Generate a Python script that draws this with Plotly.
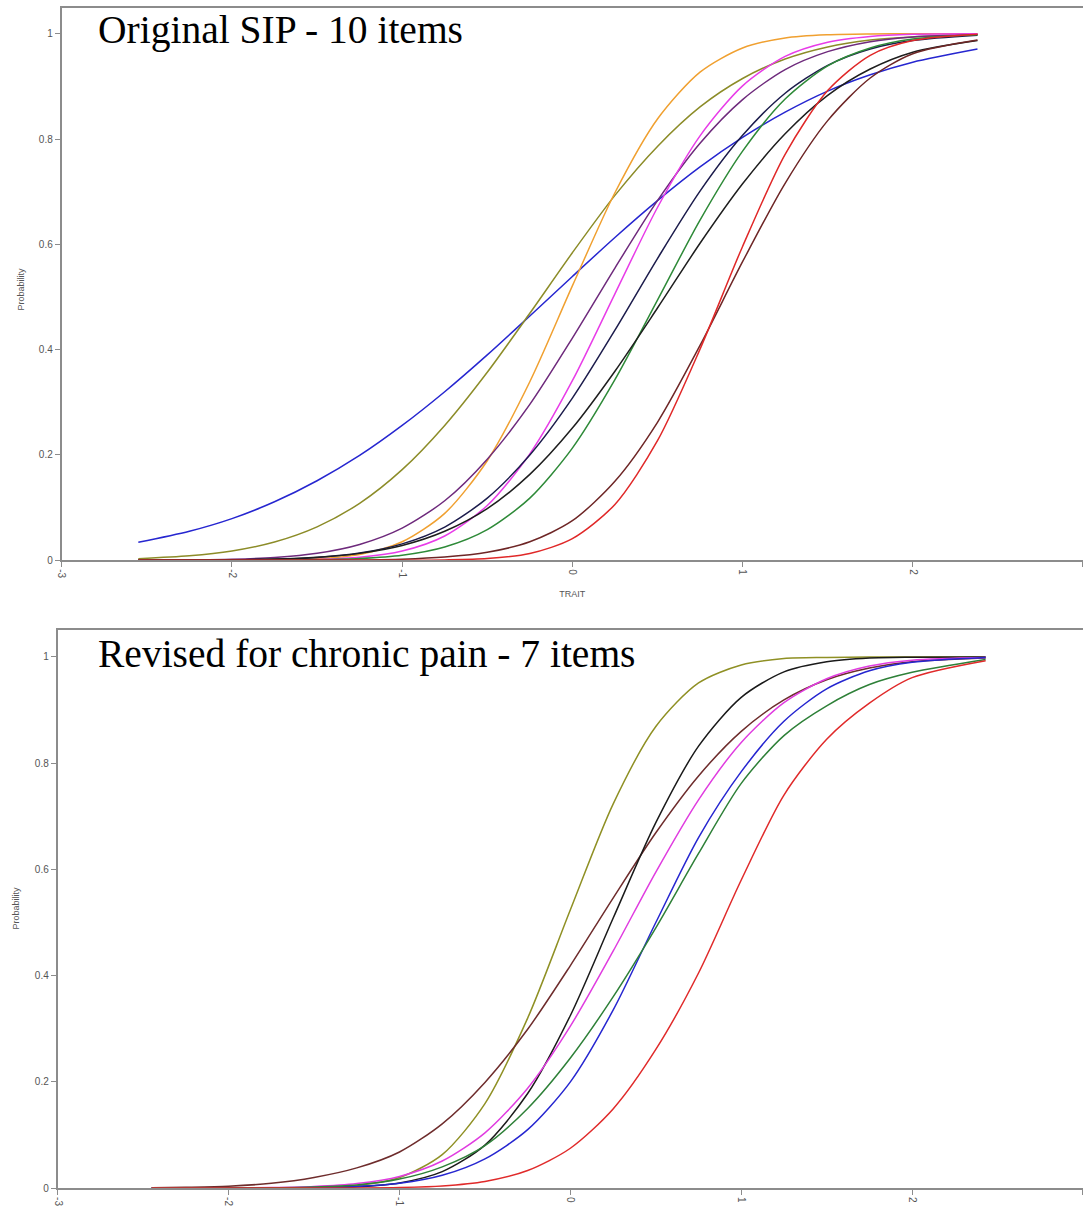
import plotly.graph_objects as go

# ---------------- data: top panel (Original SIP - 10 items) ----------------
trait_top = [-2.55, -2.25, -2.0, -1.75, -1.5, -1.25, -1.0, -0.75, -0.5, -0.25,
             0.0, 0.25, 0.5, 0.75, 1.0, 1.25, 1.5, 1.75, 2.0, 2.38]

top_blue    = [0.034, 0.055, 0.079, 0.111, 0.151, 0.199, 0.256, 0.320, 0.390, 0.464,
               0.539, 0.613, 0.683, 0.747, 0.803, 0.851, 0.891, 0.922, 0.946, 0.971]
top_olive   = [0.003, 0.0083, 0.0176, 0.0346, 0.0634, 0.108, 0.172, 0.256, 0.357, 0.469,
               0.584, 0.693, 0.786, 0.861, 0.915, 0.952, 0.975, 0.988, 0.994, 0.998]
top_orange  = [0.0, 0.0, 0.0001, 0.0006, 0.003, 0.011, 0.035, 0.089, 0.189, 0.339,
               0.521, 0.698, 0.838, 0.927, 0.973, 0.992, 0.998, 0.9996, 0.9999, 1.0]
top_purple  = [0.0001, 0.0006, 0.0019, 0.0053, 0.0132, 0.030, 0.061, 0.113, 0.192, 0.296,
               0.422, 0.555, 0.683, 0.792, 0.875, 0.932, 0.966, 0.985, 0.994, 0.999]
top_magenta = [0.0, 0.0, 0.0001, 0.0004, 0.0015, 0.0056, 0.0174, 0.046, 0.104, 0.202,
               0.341, 0.506, 0.670, 0.806, 0.901, 0.957, 0.984, 0.995, 0.999, 1.0]
top_navy    = [0.0, 0.0002, 0.0006, 0.0019, 0.0053, 0.0135, 0.031, 0.063, 0.118, 0.200,
               0.308, 0.437, 0.573, 0.701, 0.807, 0.887, 0.940, 0.971, 0.987, 0.997]
top_black   = [0.0001, 0.0003, 0.0008, 0.0022, 0.0057, 0.013, 0.028, 0.055, 0.098, 0.163,
               0.251, 0.359, 0.479, 0.602, 0.715, 0.810, 0.883, 0.933, 0.965, 0.987]
top_green   = [0.0, 0.0, 0.0, 0.0002, 0.0009, 0.0031, 0.0093, 0.025, 0.058, 0.118,
               0.213, 0.343, 0.494, 0.646, 0.777, 0.876, 0.939, 0.973, 0.990, 0.998]
top_maroon  = [0.0, 0.0, 0.0, 0.0, 0.0002, 0.0006, 0.002, 0.006, 0.015, 0.035,
               0.075, 0.150, 0.262, 0.408, 0.567, 0.716, 0.835, 0.916, 0.962, 0.988]
top_red     = [0.0, 0.0, 0.0, 0.0, 0.0, 0.0, 0.0001, 0.0006, 0.0031, 0.0126,
               0.041, 0.106, 0.227, 0.401, 0.596, 0.771, 0.892, 0.959, 0.987, 0.999]

# ---------------- data: bottom panel (Revised for chronic pain - 7 items) ----------------
trait_bot = [-2.45, -2.25, -2.0, -1.75, -1.5, -1.25, -1.0, -0.75, -0.5, -0.25,
             0.0, 0.25, 0.5, 0.75, 1.0, 1.25, 1.5, 1.75, 2.0, 2.43]

bot_olive   = [0.0, 0.0, 0.0, 0.0001, 0.0009, 0.0048, 0.0198, 0.063, 0.159, 0.320,
               0.524, 0.723, 0.869, 0.951, 0.985, 0.997, 0.999, 1.0, 1.0, 1.0]
bot_maroon  = [0.0006, 0.0015, 0.0035, 0.009, 0.020, 0.038, 0.068, 0.121, 0.199, 0.299,
               0.419, 0.546, 0.669, 0.776, 0.860, 0.919, 0.957, 0.979, 0.991, 0.998]
bot_black   = [0.0, 0.0, 0.0, 0.0001, 0.0005, 0.0025, 0.0097, 0.031, 0.081, 0.178,
               0.325, 0.508, 0.688, 0.832, 0.924, 0.972, 0.991, 0.998, 0.9995, 1.0]
bot_magenta = [0.0, 0.0001, 0.0002, 0.0009, 0.0029, 0.0085, 0.022, 0.051, 0.104, 0.188,
               0.305, 0.446, 0.595, 0.731, 0.839, 0.914, 0.959, 0.983, 0.994, 0.999]
bot_blue    = [0.0, 0.0, 0.0001, 0.0003, 0.0009, 0.003, 0.009, 0.024, 0.055, 0.110,
               0.200, 0.335, 0.500, 0.660, 0.784, 0.879, 0.940, 0.974, 0.990, 0.999]
bot_green   = [0.0, 0.0, 0.0001, 0.0005, 0.002, 0.006, 0.017, 0.040, 0.080, 0.150,
               0.245, 0.360, 0.490, 0.630, 0.762, 0.852, 0.908, 0.948, 0.971, 0.995]
bot_red     = [0.0, 0.0, 0.0, 0.0, 0.0001, 0.0003, 0.0012, 0.0041, 0.0125, 0.033,
               0.075, 0.149, 0.261, 0.405, 0.580, 0.740, 0.845, 0.913, 0.961, 0.993]

y_ticks = [0, 0.2, 0.4, 0.6, 0.8, 1]
y_tick_labels = ["0", "0.2", "0.4", "0.6", "0.8", "1"]
x_ticks = [-3, -2, -1, 0, 1, 2, 3]
x_tick_labels = ["-3", "-2", "-1", "0", "1", "2", "3"]

top_series = [
    (top_blue, "#2626d0"), (top_olive, "#8c8c28"), (top_orange, "#f0a030"),
    (top_purple, "#6e2a7c"), (top_magenta, "#e83ce8"), (top_navy, "#1c1c4c"),
    (top_green, "#2e8a38"), (top_black, "#1e1e1e"), (top_maroon, "#6e2626"),
    (top_red, "#e02828"),
]
bot_series = [
    (bot_olive, "#8f9024"), (bot_maroon, "#6e2c2c"), (bot_black, "#1a1a1a"),
    (bot_magenta, "#e03ce0"), (bot_blue, "#2626d0"), (bot_green, "#2e8038"),
    (bot_red, "#e02a2a"),
]

fig = go.Figure()
for ys, col in top_series:
    fig.add_trace(go.Scatter(x=trait_top, y=ys, mode="lines", xaxis="x", yaxis="y",
                             line=dict(color=col, width=1.5, shape="spline", smoothing=0.8),
                             showlegend=False, hoverinfo="skip"))
for ys, col in bot_series:
    fig.add_trace(go.Scatter(x=trait_bot, y=ys, mode="lines", xaxis="x2", yaxis="y2",
                             line=dict(color=col, width=1.5, shape="spline", smoothing=0.8),
                             showlegend=False, hoverinfo="skip"))

W, H = 1083, 1211
axis_col = "#8c8c8c"
tick_font = dict(family="Liberation Sans, Arial, sans-serif", size=10, color="#555555")
title_font = dict(family="Liberation Sans, Arial, sans-serif", size=9, color="#555555")

common_x = dict(range=[-3, 3], tickvals=x_ticks, ticktext=x_tick_labels, tickangle=90,
                showgrid=False, zeroline=False, showline=True, linecolor=axis_col, linewidth=2,
                mirror=True, ticks="outside", ticklen=5, tickcolor=axis_col, tickwidth=1,
                tickfont=tick_font)
common_y = dict(tickvals=y_ticks, ticktext=y_tick_labels, showgrid=False, zeroline=False,
                showline=True, linecolor=axis_col, linewidth=2, ticks="outside", ticklen=5,
                tickcolor=axis_col, tickwidth=1, tickfont=tick_font)

fig.update_layout(
    width=W, height=H,
    margin=dict(l=0, r=0, t=0, b=0),
    paper_bgcolor="white", plot_bgcolor="white",
    xaxis=dict(domain=[57 / W, 1], anchor="y",
               title=dict(text="TRAIT", font=title_font, standoff=13),
               **common_x),
    yaxis=dict(domain=[1 - 563 / H, 1 - 8 / H], anchor="x", range=[0, 1.049], **common_y),
    xaxis2=dict(domain=[53 / W, 1], anchor="y2", **common_x),
    yaxis2=dict(domain=[1 - 1194 / H, 1 - 633 / H], anchor="x2", range=[0, 1.051], **common_y),
    annotations=[
        dict(text="Original SIP - 10 items", xref="paper", yref="paper",
             x=91 / W, y=1 - 30 / H, xanchor="left", yanchor="middle", showarrow=False,
             font=dict(family="Liberation Serif, Times New Roman, serif", size=39.5, color="black")),
        dict(text="Revised for chronic pain - 7 items", xref="paper", yref="paper",
             x=91 / W, y=1 - 657 / H, xanchor="left", yanchor="middle", showarrow=False,
             font=dict(family="Liberation Serif, Times New Roman, serif", size=39.5, color="black")),
        dict(text="Probability", xref="paper", yref="paper", textangle=-90,
             x=16 / W, y=1 - 290 / H, xanchor="center", yanchor="middle", showarrow=False,
             font=title_font),
        dict(text="Probability", xref="paper", yref="paper", textangle=-90,
             x=12 / W, y=1 - 912 / H, xanchor="center", yanchor="middle", showarrow=False,
             font=title_font),
    ],
)

fig.write_html("out.html", config={"displayModeBar": False},
               post_script="document.body.style.margin='0';document.body.style.padding='0';"
                           "document.body.style.overflow='hidden';")
